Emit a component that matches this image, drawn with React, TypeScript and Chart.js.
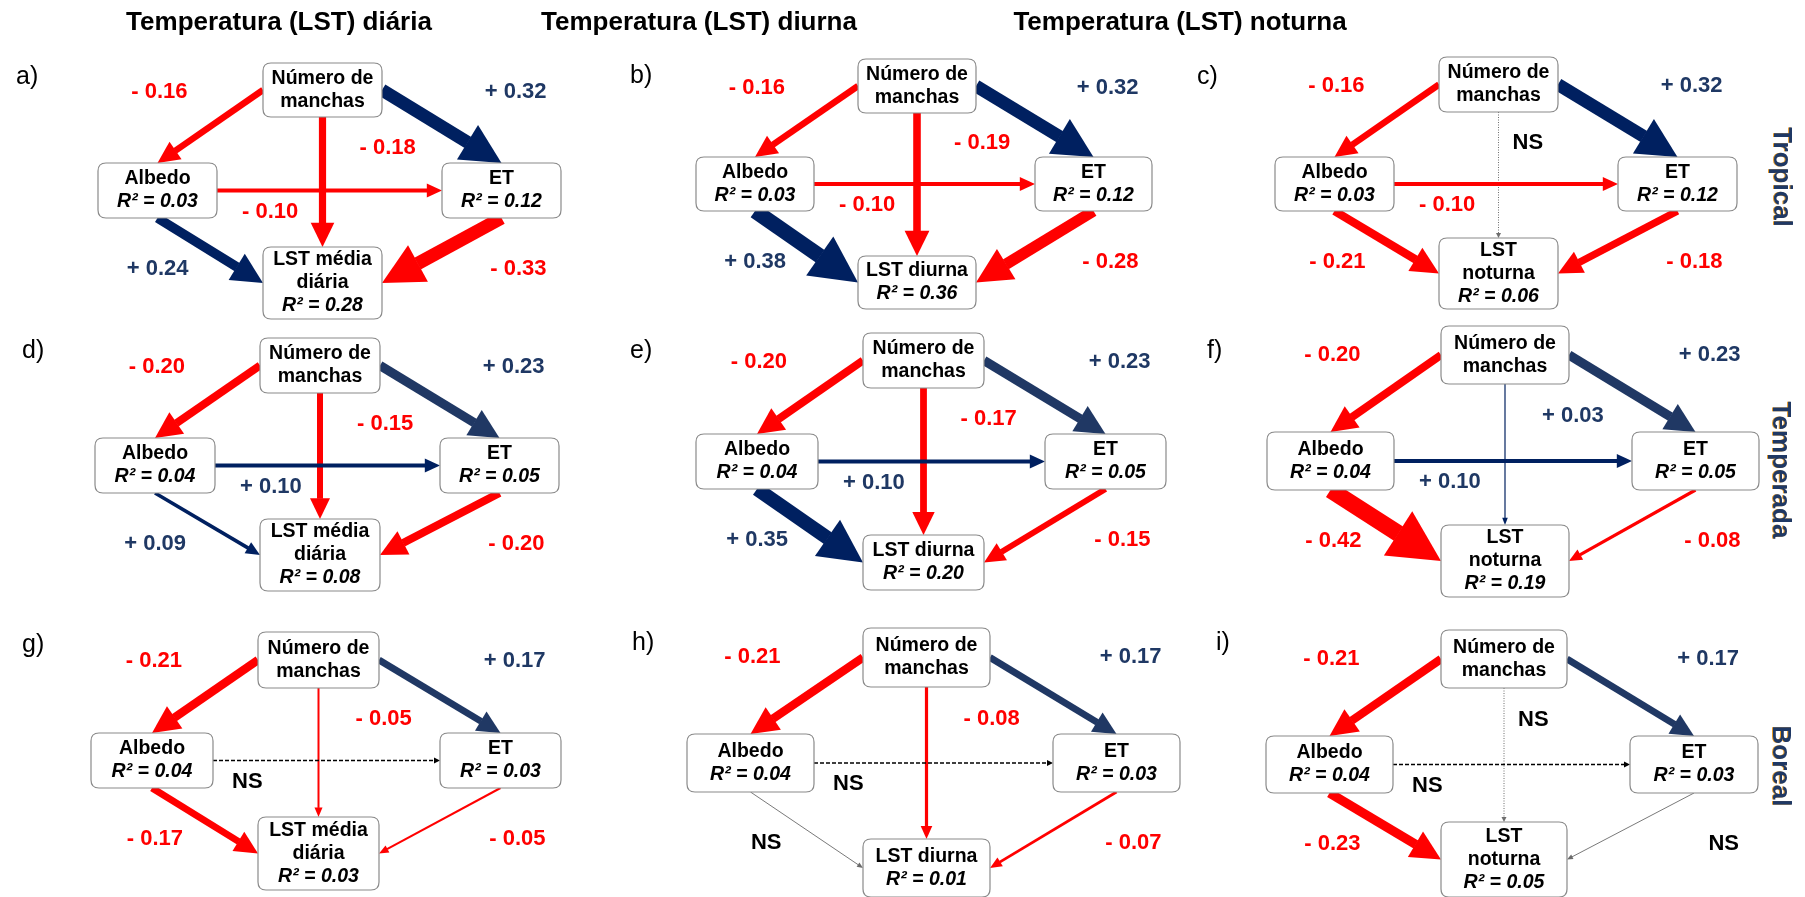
import React, { useEffect, useRef } from 'react';
import { Chart, registerables } from 'chart.js';
Chart.register(...registerables);

// ---------- DATA ----------
const panelLetters = ['a)', 'b)', 'c)', 'd)', 'e)', 'f)', 'g)', 'h)', 'i)'];
const columnTitles = ['Temperatura (LST) diária', 'Temperatura (LST) diurna', 'Temperatura (LST) noturna'];
const rowLabels = ['Tropical', 'Temperada', 'Boreal'];
const sourceName = ['Número de', 'manchas'];
const albedoName = 'Albedo';
const etName = 'ET';
const lstNames = [['LST média', 'diária'], ['LST diurna'], ['LST', 'noturna']];

// path coefficients (null = NS)
const coefNumAlb = [-0.16, -0.16, -0.16, -0.20, -0.20, -0.20, -0.21, -0.21, -0.21];
const coefNumET = [0.32, 0.32, 0.32, 0.23, 0.23, 0.23, 0.17, 0.17, 0.17];
const coefNumLST = [-0.18, -0.19, null, -0.15, -0.17, 0.03, -0.05, -0.08, null];
const coefAlbET = [-0.10, -0.10, -0.10, 0.10, 0.10, 0.10, null, null, null];
const coefAlbLST = [0.24, 0.38, -0.21, 0.09, 0.35, -0.42, -0.17, null, -0.23];
const coefETLST = [-0.33, -0.28, -0.18, -0.20, -0.15, -0.08, -0.05, -0.07, null];

// R² values
const r2Alb = [0.03, 0.03, 0.03, 0.04, 0.04, 0.04, 0.04, 0.04, 0.04];
const r2ET = [0.12, 0.12, 0.12, 0.05, 0.05, 0.05, 0.03, 0.03, 0.03];
const r2LST = [0.28, 0.36, 0.06, 0.08, 0.20, 0.19, 0.03, 0.01, 0.05];

// ---------- LAYOUT (chart units) : [centerX, top, width, height] ----------
const layoutNum = [[322.5, 63, 119, 54], [917, 59, 118, 54], [1498.5, 57, 119, 55], [320, 338, 120, 55], [923.5, 333, 121, 55], [1505, 326, 128, 58], [318.5, 632, 121, 56], [926.5, 628, 127, 59], [1504, 630, 126, 58]];
const layoutAlb = [[157.5, 163, 119, 55], [755, 157, 118, 54], [1334.5, 157, 119, 54], [155, 438, 120, 55], [757, 434, 122, 55], [1330.5, 432, 127, 58], [152, 733, 122, 55], [750.5, 734, 127, 58], [1329.5, 736, 127, 57]];
const layoutET = [[501.5, 163, 119, 55], [1093.5, 157, 117, 54], [1677.5, 157, 119, 54], [499.5, 438, 119, 55], [1105.5, 434, 121, 55], [1695.5, 432, 127, 58], [500.5, 733, 121, 55], [1116.5, 734, 127, 58], [1694, 736, 128, 57]];
const layoutLST = [[322.5, 247, 119, 72], [917, 256, 118, 53], [1498.5, 238, 119, 71], [320, 519, 120, 72], [923.5, 535, 121, 55], [1505, 525, 128, 72], [318.5, 817, 121, 73], [926.5, 839, 127, 58], [1504, 822, 126, 75]];
const letterPos = [[16, 77], [630, 76], [1197, 77], [22, 351], [630, 351], [1207, 351], [22, 645], [632, 643], [1216, 643]];
const titlePos = [[279, 23], [699, 23], [1180, 23]];
const rowLabelPos = [[1781, 177], [1780, 470], [1780, 766]];

// ---------- STYLE ----------
const FONT = '"Liberation Sans", Arial, Helvetica, sans-serif';
const RED = '#ff0000';
const NAVY = '#002060';
const SLATE = ['#002060', '#203864', '#203864']; // Num->ET colour per row
const LABEL_NAVY = '#1f3864';

const fmt = (c: number | null) => (c === null ? 'NS' : (c < 0 ? '- ' : '+ ') + Math.abs(c).toFixed(2));
const labelColor = (c: number | null) => (c === null ? '#000000' : c < 0 ? RED : LABEL_NAVY);

type Box = { cx: number; top: number; w: number; h: number };

const diagramPlugin = {
  id: 'pathDiagram',
  afterDatasetsDraw(chart: any) {
    const ctx: CanvasRenderingContext2D = chart.ctx;
    const xs = chart.scales.x;
    const ys = chart.scales.y;
    const X = (v: number) => xs.getPixelForValue(v);
    const Y = (v: number) => ys.getPixelForValue(v);
    const S = (v: number) => Math.abs(X(v) - X(0));

    const toBox = (l: number[]): Box => ({ cx: l[0], top: l[1], w: l[2], h: l[3] });

    ctx.save();

    const arrow = (x1: number, y1: number, x2: number, y2: number, c: number | null, color: string, nsStyle: string) => {
      let w: number, hl: number, hw: number, col = color, dash: number[] = [];
      if (c === null) {
        if (nsStyle === 'dash') { w = 1.4; col = '#000000'; dash = [4, 2]; hl = 6; hw = 6; }
        else if (nsStyle === 'dot') { w = 1; col = '#6e6e6e'; dash = [1, 1.5]; hl = 5; hw = 5; }
        else { w = 0.9; col = '#6a6a6a'; hl = 6; hw = 5; }
      } else {
        w = Math.max(1.1, 40 * Math.abs(c));
        hl = 2.8 * w + 4;
        hw = 3.0 * w + 2;
      }
      const px1 = X(x1), py1 = Y(y1), px2 = X(x2), py2 = Y(y2);
      const dx = px2 - px1, dy = py2 - py1;
      const L = Math.hypot(dx, dy);
      const ux = dx / L, uy = dy / L;
      const bx = px2 - ux * hl, by = py2 - uy * hl;
      ctx.strokeStyle = col;
      ctx.fillStyle = col;
      ctx.lineWidth = w;
      ctx.lineCap = 'butt';
      ctx.setLineDash(dash);
      ctx.beginPath();
      ctx.moveTo(px1, py1);
      ctx.lineTo(bx + ux * 0.5, by + uy * 0.5);
      ctx.stroke();
      ctx.setLineDash([]);
      ctx.beginPath();
      ctx.moveTo(px2, py2);
      ctx.lineTo(bx - uy * hw / 2, by + ux * hw / 2);
      ctx.lineTo(bx + uy * hw / 2, by - ux * hw / 2);
      ctx.closePath();
      ctx.fill();
    };

    const drawBox = (b: Box, lines: { t: string; italic?: boolean }[]) => {
      const x = X(b.cx - b.w / 2), y = Y(b.top), w = S(b.w), h = S(b.h);
      const r = 8;
      ctx.beginPath();
      ctx.moveTo(x + r, y);
      ctx.lineTo(x + w - r, y);
      ctx.quadraticCurveTo(x + w, y, x + w, y + r);
      ctx.lineTo(x + w, y + h - r);
      ctx.quadraticCurveTo(x + w, y + h, x + w - r, y + h);
      ctx.lineTo(x + r, y + h);
      ctx.quadraticCurveTo(x, y + h, x, y + h - r);
      ctx.lineTo(x, y + r);
      ctx.quadraticCurveTo(x, y, x + r, y);
      ctx.closePath();
      ctx.fillStyle = '#ffffff';
      ctx.fill();
      ctx.strokeStyle = '#8a8a8a';
      ctx.lineWidth = 1.2;
      ctx.stroke();
      const n = lines.length;
      const mid = Y(b.top + b.h / 2);
      ctx.fillStyle = '#000000';
      ctx.textAlign = 'center';
      ctx.textBaseline = 'middle';
      lines.forEach((ln, i) => {
        ctx.font = (ln.italic ? 'italic ' : '') + 'bold 19.5px ' + FONT;
        ctx.fillText(ln.t, X(b.cx), mid + (i - (n - 1) / 2) * 23);
      });
    };

    const label = (c: number | null, x: number, y: number, align: CanvasTextAlign) => {
      ctx.font = 'bold 22px ' + FONT;
      ctx.textAlign = align;
      ctx.textBaseline = 'middle';
      ctx.fillStyle = labelColor(c);
      ctx.fillText(fmt(c), X(x), Y(y));
    };

    for (let p = 0; p < 9; p++) {
      const row = Math.floor(p / 3);
      const col = p % 3;
      const nb = toBox(layoutNum[p]);
      const ab = toBox(layoutAlb[p]);
      const eb = toBox(layoutET[p]);
      const lb = toBox(layoutLST[p]);
      const numMid = nb.top + nb.h / 2;
      const albMid = ab.top + ab.h / 2;
      const lstMid = lb.top + lb.h / 2;
      const colOf = (c: number | null) => (c !== null && c < 0 ? RED : NAVY);

      // arrows
      arrow(nb.cx, nb.top + nb.h, nb.cx, lb.top, coefNumLST[p], colOf(coefNumLST[p]), 'dot');
      arrow(ab.cx + ab.w / 2, albMid, eb.cx - eb.w / 2, albMid, coefAlbET[p], colOf(coefAlbET[p]), 'dash');
      arrow(nb.cx - nb.w / 2, numMid, ab.cx, ab.top, coefNumAlb[p], colOf(coefNumAlb[p]), 'solid');
      arrow(nb.cx + nb.w / 2, numMid, eb.cx, eb.top, coefNumET[p], coefNumET[p]! < 0 ? RED : SLATE[row], 'solid');
      arrow(ab.cx, ab.top + ab.h, lb.cx - lb.w / 2, lstMid, coefAlbLST[p], colOf(coefAlbLST[p]), 'solid');
      arrow(eb.cx, eb.top + eb.h, lb.cx + lb.w / 2, lstMid, coefETLST[p], colOf(coefETLST[p]), 'solid');

      // boxes
      drawBox(nb, sourceName.map((t) => ({ t })));
      drawBox(ab, [{ t: albedoName }, { t: 'R² = ' + r2Alb[p].toFixed(2), italic: true }]);
      drawBox(eb, [{ t: etName }, { t: 'R² = ' + r2ET[p].toFixed(2), italic: true }]);
      drawBox(lb, [...lstNames[col].map((t) => ({ t })), { t: 'R² = ' + r2LST[p].toFixed(2), italic: true }]);

      // coefficient labels
      label(coefNumAlb[p], ab.cx + 30, nb.top + 28.5, 'right');
      label(coefNumET[p], eb.cx + 45, nb.top + 28.5, 'right');
      label(coefNumLST[p], nb.cx + (coefNumLST[p] === null ? 14 : 37), (nb.top + nb.h + ab.top) / 2 + 8, 'left');
      label(coefAlbET[p], ab.cx + ab.w / 2 + (coefAlbET[p] === null ? 19 : 25), albMid + 21, 'left');
      label(coefAlbLST[p], ab.cx + 31, ab.top + ab.h + 51, 'right');
      label(coefETLST[p], eb.cx + 45, eb.top + eb.h + 51, 'right');

      // panel letter
      ctx.font = '25px ' + FONT;
      ctx.fillStyle = '#000000';
      ctx.textAlign = 'left';
      ctx.textBaseline = 'middle';
      ctx.fillText(panelLetters[p], X(letterPos[p][0]), Y(letterPos[p][1]));
    }

    // column titles
    ctx.font = 'bold 26px ' + FONT;
    ctx.fillStyle = '#000000';
    ctx.textAlign = 'center';
    ctx.textBaseline = 'middle';
    columnTitles.forEach((t, i) => ctx.fillText(t, X(titlePos[i][0]), Y(titlePos[i][1])));

    // row labels (rotated)
    rowLabels.forEach((t, i) => {
      ctx.save();
      ctx.translate(X(rowLabelPos[i][0]), Y(rowLabelPos[i][1]));
      ctx.rotate(Math.PI / 2);
      ctx.font = 'bold 26px ' + FONT;
      ctx.textAlign = 'center';
      ctx.textBaseline = 'middle';
      ctx.fillStyle = '#e69a28';
      ctx.fillText(t, 0, 1.3);
      ctx.fillStyle = LABEL_NAVY;
      ctx.fillText(t, 0, 0);
      ctx.restore();
    });

    ctx.restore();
  },
};

export default function App() {
  const ref = useRef<HTMLCanvasElement | null>(null);
  useEffect(() => {
    if (!ref.current) return;
    const nodePoints = layoutNum.map((l) => ({ x: l[0], y: l[1] }));
    const chart = new Chart(ref.current, {
      type: 'scatter',
      data: { datasets: [{ data: nodePoints, pointRadius: 0, showLine: false }] },
      options: {
        animation: false,
        responsive: false,
        events: [],
        layout: { padding: 0 },
        plugins: { legend: { display: false }, tooltip: { enabled: false } },
        scales: {
          x: { type: 'linear', min: 0, max: 1805, display: false },
          y: { type: 'linear', min: 0, max: 897, reverse: true, display: false },
        },
      },
      plugins: [diagramPlugin],
    } as any);
    return () => chart.destroy();
  }, []);
  return (
    <div style={{ position: 'fixed', left: 0, top: 0, width: 1805, height: 897, background: '#ffffff', overflow: 'hidden' }}>
      <canvas ref={ref} width={1805} height={897} style={{ display: 'block' }} />
    </div>
  );
}
